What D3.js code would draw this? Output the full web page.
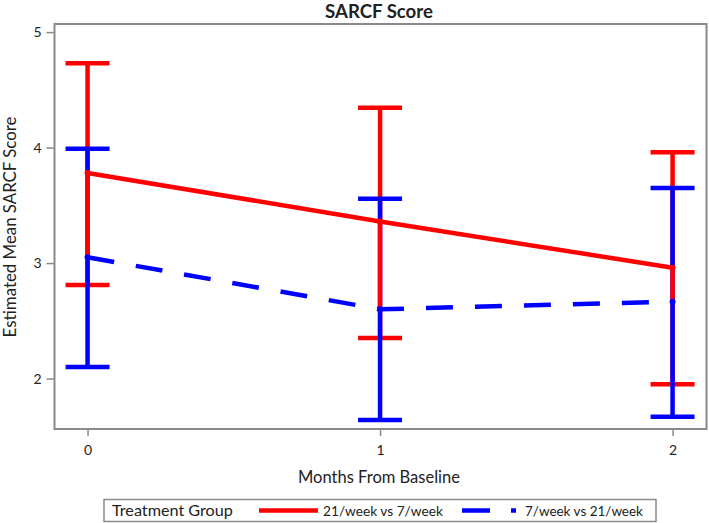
<!DOCTYPE html>
<html><head><meta charset="utf-8">
<script src="https://cdn.jsdelivr.net/npm/d3@7"></script>
<style>
body{margin:0;background:#fff;}
text{font-family:Lato,"Open Sans",sans-serif;fill:#222;}
</style></head>
<body>
<svg id="chart" width="709" height="523"></svg>
<script>
const months = [0, 1, 2];
const seriesNames = ["21/week vs 7/week", "7/week vs 21/week"];
const redMean  = [3.78, 3.36, 2.96];
const redLower = [2.81, 2.35, 1.95];
const redUpper = [4.73, 4.345, 3.96];
const blueMean  = [3.05, 2.60, 2.665];
const blueLower = [2.10, 1.64, 1.67];
const blueUpper = [3.99, 3.556, 3.65];
const yTicks = [2, 3, 4, 5];
const xTicks = [0, 1, 2];

const svg = d3.select("#chart");
const L = 54.5, R = 706.5, T = 24, B = 429;
const x = d3.scaleLinear().domain([-0.113, 2.116]).range([L, R]);
const y = d3.scaleLinear().domain([1.563, 5.07]).range([B, T]);

const RED = "#ff0000", BLUE = "#0000ff", GRAY = "#8a8a8a";

// fit a text's font size so that its width matches a target width
function fit(sel, target) {
  const node = sel.node();
  const fs = parseFloat(sel.style("font-size"));
  const w = node.getComputedTextLength();
  if (w > 0) sel.style("font-size", (fs * target / w).toFixed(2) + "px");
  return sel;
}

// title
fit(svg.append("text").attr("x", 379).attr("y", 18).attr("text-anchor", "middle")
  .style("font-size", "16px").style("font-weight", "bold").text("SARCF Score"), 108);

// axes
const yAxis = d3.axisLeft(y).tickValues(yTicks).tickSize(8).tickPadding(5).tickFormat(d3.format("d"));
const gy = svg.append("g").attr("transform", `translate(${L},0)`).call(yAxis);
const xAxis = d3.axisBottom(x).tickValues(xTicks).tickSize(7).tickPadding(9).tickFormat(d3.format("d"));
const gx = svg.append("g").attr("transform", `translate(0,${B})`).call(xAxis);
[gx, gy].forEach(g => {
  g.select(".domain").remove();
  g.selectAll(".tick line").attr("stroke", GRAY).attr("stroke-width", 1.5);
  g.selectAll(".tick text").style("font-size", "14px").style("font-family", "Lato,sans-serif").attr("fill", "#222");
});

// frame
svg.append("rect").attr("x", L).attr("y", T).attr("width", R - L).attr("height", B - T)
  .attr("fill", "none").attr("stroke", GRAY).attr("stroke-width", 2);

// axis labels
fit(svg.append("text").attr("x", 379).attr("y", 483).attr("text-anchor", "middle")
  .style("font-size", "15px").text("Months From Baseline"), 162);
fit(svg.append("text").attr("transform", `translate(16,227) rotate(-90)`).attr("text-anchor", "middle")
  .style("font-size", "15px").text("Estimated Mean SARCF Score"), 221);

const plot = svg.append("g");
const capW = 22, sw = 4.5;
function halfBar(mean, end, color) {
  months.forEach((m, i) => {
    plot.append("line").attr("x1", x(m)).attr("x2", x(m)).attr("y1", y(mean[i])).attr("y2", y(end[i]))
      .attr("stroke", color).attr("stroke-width", sw);
    plot.append("line").attr("x1", x(m) - capW).attr("x2", x(m) + capW).attr("y1", y(end[i])).attr("y2", y(end[i]))
      .attr("stroke", color).attr("stroke-width", sw);
  });
}
halfBar(redMean, redUpper, RED);
halfBar(blueMean, blueUpper, BLUE);
halfBar(redMean, redLower, RED);
halfBar(blueMean, blueLower, BLUE);

const line = d3.line().x((d, i) => x(months[i])).y(d => y(d));
plot.append("path").attr("d", line(redMean)).attr("fill", "none").attr("stroke", RED).attr("stroke-width", sw);
plot.append("path").attr("d", line(blueMean)).attr("fill", "none").attr("stroke", BLUE).attr("stroke-width", sw)
  .attr("stroke-dasharray", "27,22");
[[redMean, RED], [blueMean, BLUE]].forEach(([arr, c]) => {
  plot.selectAll(null).data(arr).enter().append("circle")
    .attr("cx", (d, i) => x(months[i])).attr("cy", d => y(d)).attr("r", 3).attr("fill", c);
});

// legend
const lg = svg.append("g");
lg.append("rect").attr("x", 104).attr("y", 499.5).attr("width", 552).attr("height", 22)
  .attr("fill", "#fff").attr("stroke", GRAY).attr("stroke-width", 1.5);
fit(lg.append("text").attr("x", 112).attr("y", 516).style("font-size", "15px").text("Treatment Group"), 121);
lg.append("line").attr("x1", 259).attr("x2", 318).attr("y1", 510.5).attr("y2", 510.5)
  .attr("stroke", RED).attr("stroke-width", sw);
fit(lg.append("text").attr("x", 323).attr("y", 516).style("font-size", "15px").text(seriesNames[0]), 120);
lg.append("line").attr("x1", 462).attr("x2", 516).attr("y1", 510.5).attr("y2", 510.5)
  .attr("stroke", BLUE).attr("stroke-width", sw).attr("stroke-dasharray", "28,21");
fit(lg.append("text").attr("x", 525).attr("y", 516).style("font-size", "15px").text(seriesNames[1]), 118);
</script>
</body></html>
